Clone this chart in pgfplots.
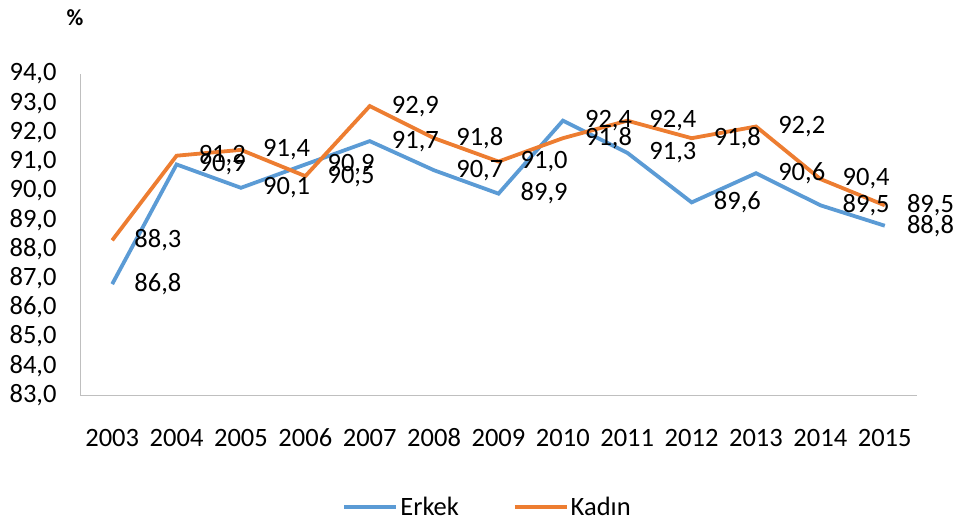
\documentclass[border=0pt]{standalone}
\usepackage{pgfplots}
\pgfplotsset{compat=1.18}
\usepackage{fontspec}
\setmainfont{Carlito}
\definecolor{cblue}{HTML}{5B9BD5}
\definecolor{corange}{HTML}{ED7D31}
\begin{document}
\begin{tikzpicture}
\useasboundingbox (-80bp,-128bp) rectangle (875bp,395bp);
\begin{axis}[
  at={(0,0)}, anchor=south west,
  scale only axis, width=837bp, height=321bp,
  xmin=2002.5, xmax=2015.5, ymin=83, ymax=94,
  xtick={2003,...,2015}, ytick={83,...,94},
  axis x line*=bottom, axis y line*=left,
  axis line style={draw=black!25, line width=0.8bp, -},
  major tick length=0pt,
  font=\fontsize{26.5bp}{30bp}\selectfont,
  /pgf/number format/assume math mode=true,
  xticklabel style={/pgf/number format/1000 sep={}, anchor=base, yshift=-51bp, text height=0pt, text depth=0pt},
  yticklabel style={xshift=-20bp},
  yticklabel={\pgfmathprintnumber[fixed,fixed zerofill,precision=1,use comma]{\tick}},
  nodes near coords={\pgfmathprintnumber[fixed,fixed zerofill,precision=1,use comma,assume math mode=true]{\pgfplotspointmeta}},
  every node near coord/.style={anchor=west, xshift=17bp, font=\fontsize{26.5bp}{30bp}\selectfont, text=black},
  legend style={at={(0.487,-0.349)}, anchor=center, draw=none, legend columns=2,
    /tikz/every even column/.append style={column sep=52bp}, font=\fontsize{26.5bp}{30bp}\selectfont},
  legend image code/.code={\draw[#1, line width=3.8bp] (0bp,0bp) -- (52bp,0bp);},
  clip=false,
]
\addplot[cblue, line width=3.8bp, mark=none] coordinates {
(2003,86.8) (2004,90.9) (2005,90.1) (2006,90.9) (2007,91.7) (2008,90.7) (2009,89.9)
(2010,92.4) (2011,91.3) (2012,89.6) (2013,90.6) (2014,89.5) (2015,88.8)};
\addlegendentry{Erkek}
\addplot[corange, line width=3.8bp, mark=none] coordinates {
(2003,88.3) (2004,91.2) (2005,91.4) (2006,90.5) (2007,92.9) (2008,91.8) (2009,91.0)
(2010,91.8) (2011,92.4) (2012,91.8) (2013,92.2) (2014,90.4) (2015,89.5)};
\addlegendentry{Kadın}
\end{axis}
\node[font=\bfseries\fontsize{23bp}{26bp}\selectfont] at (-5bp,377bp) {\%};
\end{tikzpicture}
\end{document}
